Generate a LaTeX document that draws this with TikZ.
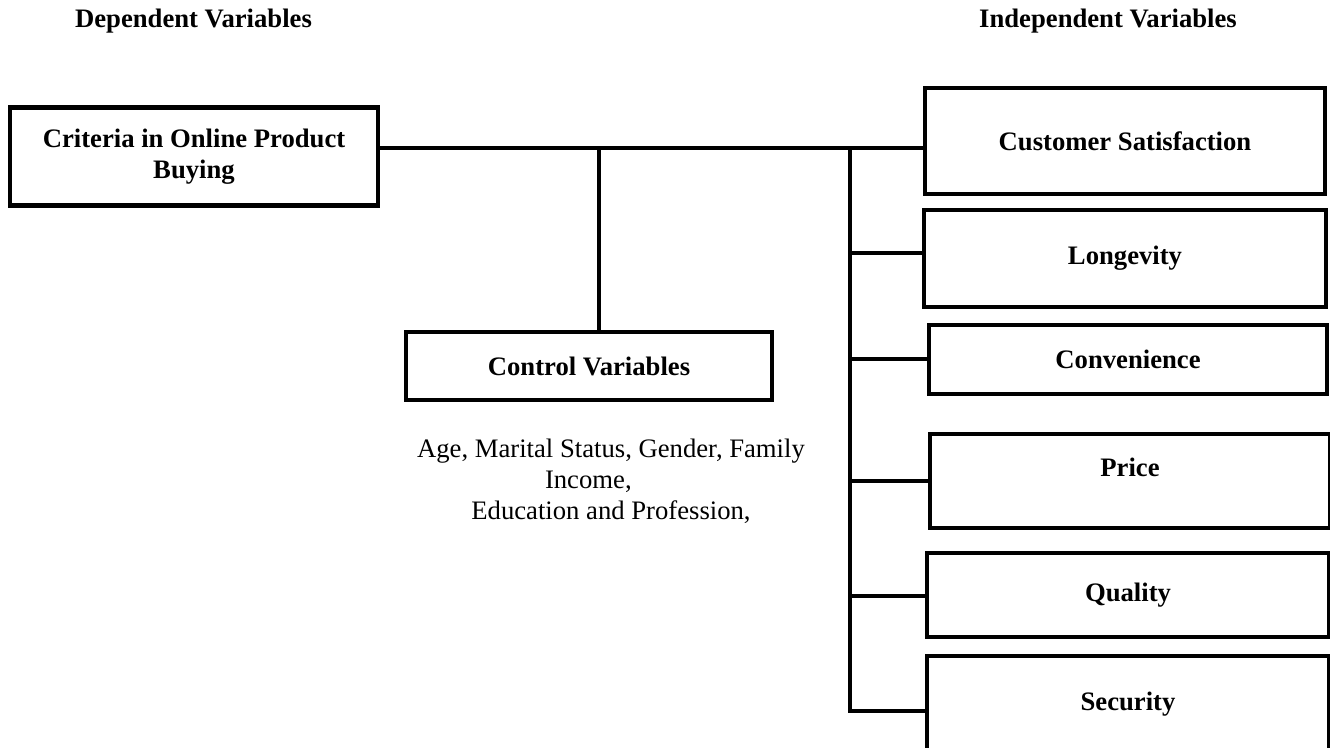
\documentclass[tikz,border=0pt]{standalone}
\usepackage{fontspec}
\setmainfont{Liberation Serif}
\usepackage{tikz}
\usetikzlibrary{calc}

\begin{document}
\begin{tikzpicture}[x=0.75pt,y=-0.75pt,
		varbox/.style={draw,line width=3.4pt,inner sep=0pt,align=center,font=\fontsize{20}{23}\selectfont\bfseries},
		head/.style={inner sep=0pt,font=\fontsize{20}{23}\selectfont\bfseries},
		link/.style={line width=3.4pt}]
			\useasboundingbox (0,0) rectangle (1330,747);
			\node[head,anchor=base] (dep) at (193.5,27) {Dependent Variables};
			\node[head,anchor=base] (indep) at (1108,27) {Independent Variables};
			\node[varbox,minimum width=276pt,minimum height=73.5pt] (crit) at (194,156.5) {Criteria in Online Product\\Buying};
			\node[varbox,minimum width=274.5pt,minimum height=51pt] (ctrl) at (589,366) {Control Variables};
			\node[inner sep=0pt,anchor=north,align=center,font=\fontsize{20}{23}\selectfont] (ctrltext) at (611,439) {Age, Marital Status, Gender, Family\\Income,\hspace*{1.7em}\null\\Education and Profession,};
			\node[varbox,minimum width=300pt,minimum height=79.5pt] (cs) at (1125,141) {Customer Satisfaction};
			\node[varbox,minimum width=301.5pt,minimum height=72.75pt] (lon) at (1125,258.5) {Longevity};
			\node[varbox,minimum width=298.5pt,minimum height=51.75pt] (con) at (1128,359.5) {Convenience};
			\node[varbox,minimum width=300pt,minimum height=70.5pt] (pri) at (1130,481) {};
			\node[head] (pritext) at ($(pri.center)+(0,-14)$) {Price};
			\node[varbox,minimum width=301.5pt,minimum height=63pt] (qua) at (1128,595) {Quality};
			\node[varbox,minimum width=301.5pt,minimum height=72pt] (sec) at (1128,704) {Security};
			\coordinate (drop) at (599,148);
			\coordinate (bustop) at (850,148);
			\coordinate (b1) at (850,253);
			\coordinate (b2) at (850,359);
			\coordinate (b3) at (850,481);
			\coordinate (b4) at (850,596);
			\coordinate (b5) at (850,711);
			\draw[link] (crit.east |- bustop) -- (cs.west |- bustop);
			\draw[link] (drop) -- (drop |- ctrl.north);
			\draw[link] (bustop) -- (b5) -- (b5 -| sec.west);
			\draw[link] (b1) -- (b1 -| lon.west);
			\draw[link] (b2) -- (b2 -| con.west);
			\draw[link] (b3) -- (b3 -| pri.west);
			\draw[link] (b4) -- (b4 -| qua.west);
		\end{tikzpicture}
\end{document}
